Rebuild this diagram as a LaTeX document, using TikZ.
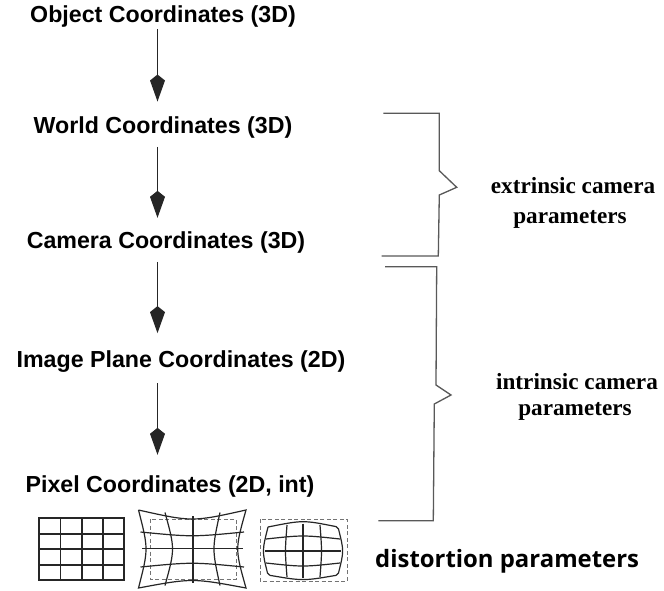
\documentclass[tikz,border=0pt]{standalone}
\usepackage{fontspec}
\usetikzlibrary{arrows.meta}
\newfontfamily\lsans{Liberation Sans}
\newfontfamily\lserif{Liberation Serif}
\newfontfamily\osans{Open Sans}
\begin{document}
\begin{tikzpicture}[x=1pt,y=-1pt,
  lbl/.style={inner sep=0pt, anchor=base, text height=16.5pt, text depth=5pt,
    font=\lsans\bfseries\fontsize{23.2}{28}\selectfont},
  rlbl/.style={inner sep=0pt, anchor=base, font=\lserif\bfseries\fontsize{23.2}{28}\selectfont},
  conn/.style={line width=1.2pt, draw=black!85, -{Kite[length=27pt,width=15pt,inset=6pt]}},
  brace/.style={line width=1.3pt, draw=black!65, line join=miter},
  gridln/.style={line width=1.2pt, draw=black!85},
  dashbox/.style={line width=1pt, draw=black!55, dash pattern=on 4pt off 2.5pt}]
\useasboundingbox (0,0) rectangle (664,590);
\fill[white] (0,0) rectangle (664,590);

% labels
\node[lbl] (obj) at (163,22.5) {Object Coordinates (3D)};
\node[lbl] (wor) at (163,133) {World Coordinates (3D)};
\node[lbl] (cam) at (166,248) {Camera Coordinates (3D)};
\node[lbl] (img) at (181,367) {Image Plane Coordinates (2D)};
\node[lbl] (pix) at (170,492) {Pixel Coordinates (2D, int)};

\coordinate (ax) at (157.5,0);
\draw[conn, shorten <=1.6pt, shorten >=14.8pt] (obj.south -| ax) -- (wor.north -| ax);
\draw[conn, shorten <=8.7pt, shorten >=13.5pt] (wor.south -| ax) -- (cam.north -| ax);
\draw[conn, shorten <=8.7pt, shorten >=17.2pt] (cam.south -| ax) -- (img.north -| ax);
\draw[conn, shorten <=11pt, shorten >=20.5pt] (img.south -| ax) -- (pix.north -| ax);

% braces
\draw[brace] (383.3,113.3) -- (439.3,113.3) -- (439.3,170.7) -- (456.7,187.3)
  -- (439.3,195) -- (438.3,256) -- (381.7,256);
\draw[brace] (385,266.7) -- (436.7,266.7) -- (436,385) -- (451,395)
  -- (434.3,404) -- (433.3,520.7) -- (378.3,520.7);

\node[rlbl] (ext1) at (573,193.3) {extrinsic camera};
\node[rlbl] (ext2) at (570,223.3) {parameters};
\node[rlbl] (int1) at (577,389) {intrinsic camera};
\node[rlbl] (int2) at (575,415) {parameters};

\node[inner sep=0pt, anchor=base west, font=\osans\bfseries\fontsize{23.9}{29}\selectfont]
  (dist) at (375,567) {distortion parameters};

% grid 1: undistorted
\draw[gridln] (39,518) rectangle (124,580);
\foreach \x in {60.5,82,103} \draw[gridln] (\x,518) -- (\x,580);
\foreach \y in {534,549,565} \draw[gridln] (39,\y) -- (124,\y);

% grid 2: pincushion
\draw[dashbox] (150,519) rectangle (236,579);
\draw[gridln] (138.5,510) .. controls (192.25,522) .. (246,510)
  .. controls (235,549) .. (246,588)
  .. controls (192.25,578) .. (138.5,588)
  .. controls (148.5,549) .. (138.5,510);
\draw[gridln] (165,512.5) .. controls (175,549) .. (165,585.5);
\draw[gridln] (193,516) -- (193,583);
\draw[gridln] (220,512.5) .. controls (212,549) .. (220,585.5);
\draw[gridln] (140.5,532) .. controls (192.25,537) .. (244,532);
\draw[gridln] (142,548.5) -- (242.5,548.5);
\draw[gridln] (140.5,567) .. controls (192.25,562) .. (244,567);

% grid 3: barrel
\draw[dashbox] (260,519) rectangle (347,581);
\draw[gridln, rounded corners=2pt] (268,527) .. controls (303,520) .. (338,527)
  .. controls (344,551) .. (338,575)
  .. controls (303,581) .. (268,575)
  .. controls (262,551) .. (268,527);
\draw[gridln] (287,525) .. controls (285,551) .. (287,577);
\draw[gridln] (303,523.5) -- (303,578);
\draw[gridln] (320,525) .. controls (322,551) .. (320,577);
\draw[gridln] (266,539) .. controls (303,535) .. (340,539);
\draw[gridln] (265,551) -- (341,551);
\draw[gridln] (266,563) .. controls (303,567) .. (340,563);
\end{tikzpicture}
\end{document}
